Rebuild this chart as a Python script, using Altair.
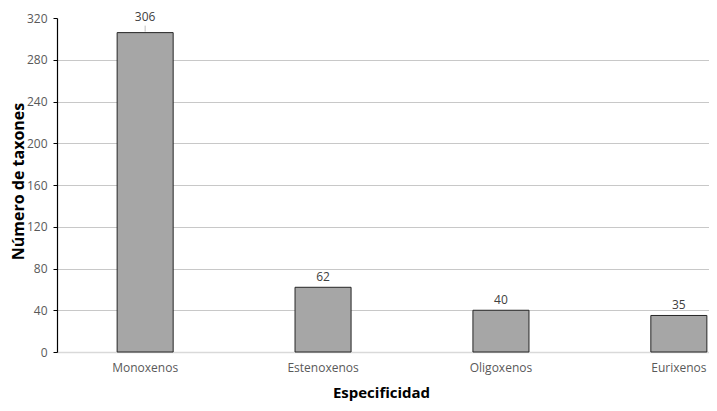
import altair as alt
import pandas as pd

categories = ["Monoxenos", "Estenoxenos", "Oligoxenos", "Eurixenos"]
values = [306, 62, 40, 35]

df = pd.DataFrame({"cat": categories, "value": values})

FONT = "Open Sans"

x_enc = alt.X(
    "cat:N",
    sort=categories,
    scale=alt.Scale(range=[0, 710], paddingInner=0.685, paddingOuter=0.338),
    axis=alt.Axis(
        title="Especificidad",
        titleFont=FONT, titleFontSize=15, titleFontWeight="bold", titleColor="#000000",
        titleX=324, titleY=40, titleBaseline="middle", titleAlign="center",
        labelFont=FONT, labelFontSize=12, labelColor="#595959", labelAngle=0,
        labelPadding=10, ticks=False,
        domainColor="#d9d9d9", domainWidth=1.5, grid=False,
    ),
)

y_enc = alt.Y(
    "value:Q",
    scale=alt.Scale(domain=[0, 320], nice=False),
    axis=alt.Axis(
        title="Número de taxones",
        titleFont=FONT, titleFontSize=16, titleFontWeight="bold", titleColor="#000000",
        titleX=-39, titleY=163, titleAngle=270, titleBaseline="middle", titleAlign="center",
        values=list(range(0, 321, 40)),
        labelFont=FONT, labelFontSize=12, labelColor="#595959", labelPadding=6,
        tickColor="#000000", tickSize=4, domainColor="#000000", domainWidth=1.2,
        grid=True, gridColor="#c8c8c8", gridWidth=1.2,
        gridOpacity=alt.expr("datum.value >= 320 || datum.value <= 0 ? 0 : 1"),
    ),
)

bars = alt.Chart(df).mark_bar(
    fill="#a6a6a6", stroke="#262626", strokeWidth=1
).encode(x=x_enc, y=y_enc)

labels_small = alt.Chart(df).transform_filter("datum.value < 300").mark_text(
    font=FONT, fontSize=12, color="#404040", baseline="bottom", dy=-3
).encode(x=alt.X("cat:N", sort=categories), y="value:Q", text="value:Q")

labels_big = alt.Chart(df).transform_filter("datum.value >= 300").mark_text(
    font=FONT, fontSize=12, color="#404040", baseline="bottom", dy=-9
).encode(x=alt.X("cat:N", sort=categories), y="value:Q", text="value:Q")

leader = alt.Chart(df).transform_filter("datum.value >= 300").mark_rule(
    color="#bfbfbf", strokeWidth=1, yOffset=-1, y2Offset=-7
).encode(x=alt.X("cat:N", sort=categories), y="value:Q", y2="value:Q")

chart = alt.layer(bars, leader, labels_small, labels_big).properties(
    width=650, height=334,
    autosize=alt.AutoSizeParams(type="none"),
    padding={"left": 49, "top": 10, "right": 2, "bottom": 51},
).configure_view(stroke=None)

chart.save("out.html", embed_options={"renderer": "svg", "actions": False})
